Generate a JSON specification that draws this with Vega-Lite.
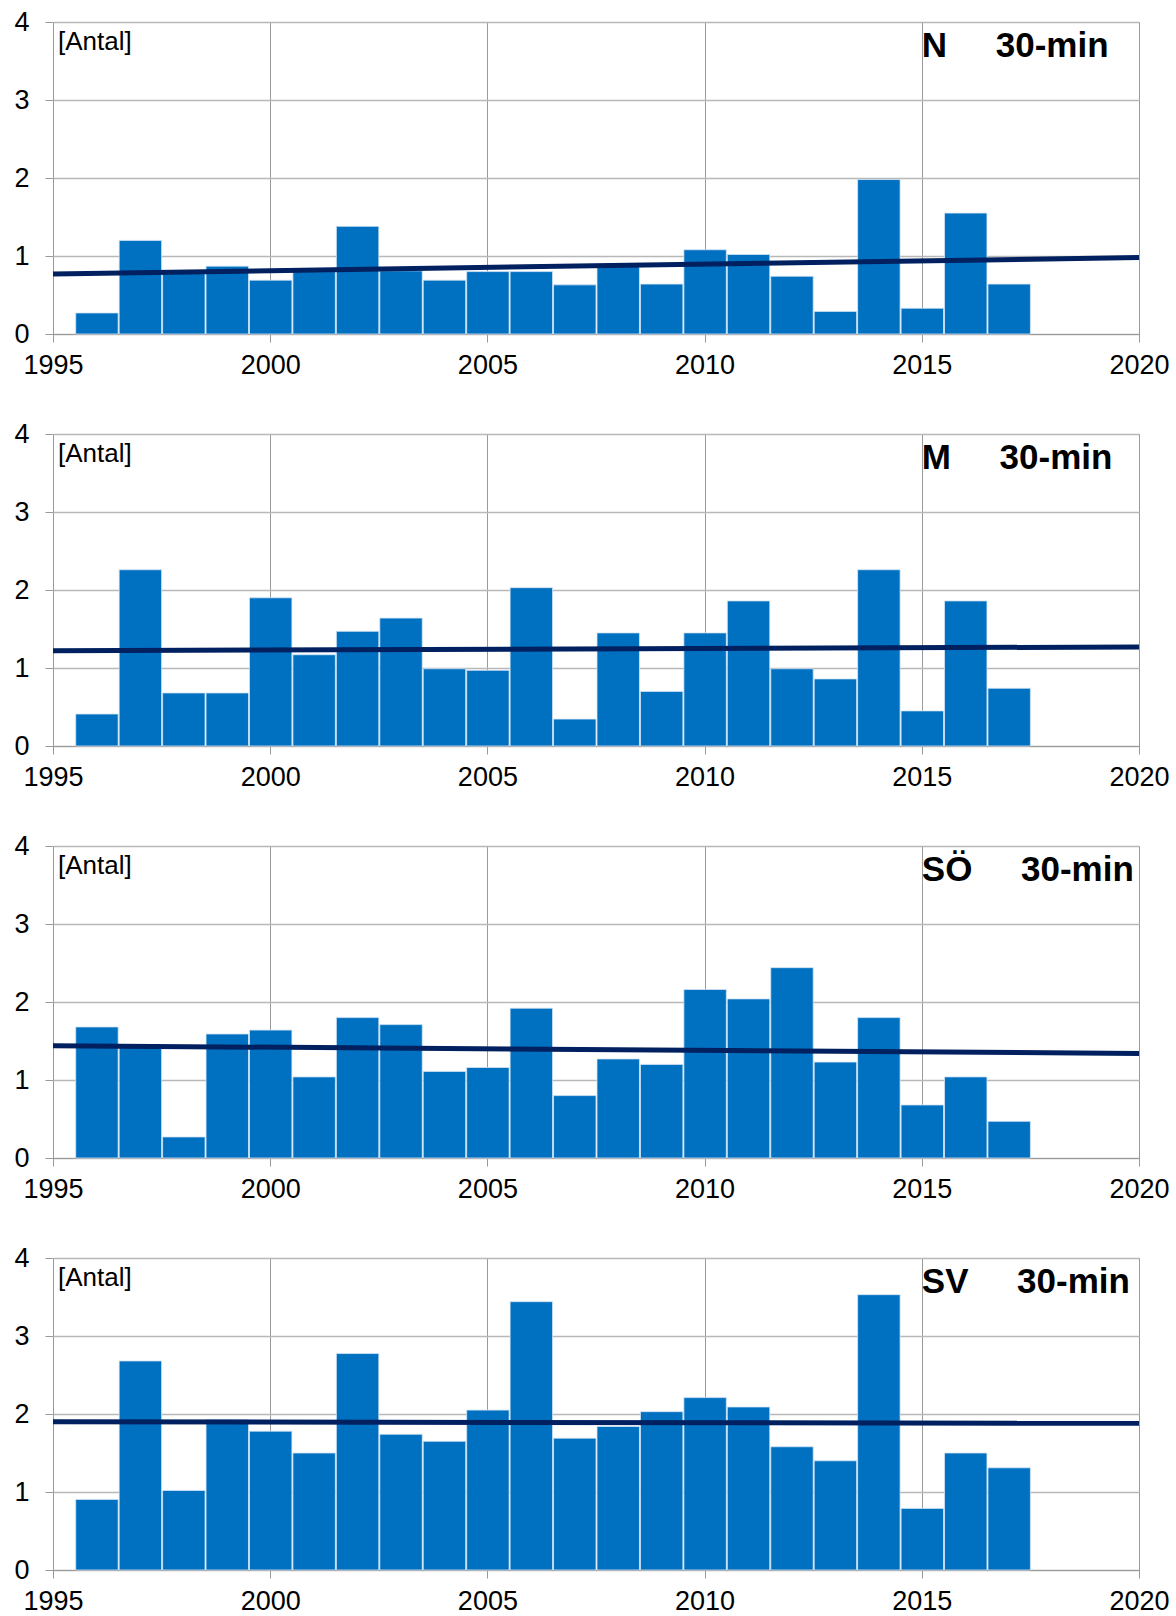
{
  "$schema": "https://vega.github.io/schema/vega-lite/v6.json",
  "background": "white",
  "padding": {"left": 13, "top": 8, "right": 10, "bottom": 0},
  "config": {
    "font": "Liberation Sans",
    "view": {"stroke": "#a0a0a0", "strokeWidth": 1},
    "axis": {"labelFont": "Liberation Sans", "labelColor": "#000000", "titleFont": "Liberation Sans"}
  },
  "data": {"values": [
    {"region": "N", "kind": "bar", "year": 1996, "value": 0.27},
    {"region": "N", "kind": "bar", "year": 1997, "value": 1.20},
    {"region": "N", "kind": "bar", "year": 1998, "value": 0.80},
    {"region": "N", "kind": "bar", "year": 1999, "value": 0.87},
    {"region": "N", "kind": "bar", "year": 2000, "value": 0.69},
    {"region": "N", "kind": "bar", "year": 2001, "value": 0.80},
    {"region": "N", "kind": "bar", "year": 2002, "value": 1.38},
    {"region": "N", "kind": "bar", "year": 2003, "value": 0.81},
    {"region": "N", "kind": "bar", "year": 2004, "value": 0.69},
    {"region": "N", "kind": "bar", "year": 2005, "value": 0.80},
    {"region": "N", "kind": "bar", "year": 2006, "value": 0.80},
    {"region": "N", "kind": "bar", "year": 2007, "value": 0.63},
    {"region": "N", "kind": "bar", "year": 2008, "value": 0.88},
    {"region": "N", "kind": "bar", "year": 2009, "value": 0.64},
    {"region": "N", "kind": "bar", "year": 2010, "value": 1.08},
    {"region": "N", "kind": "bar", "year": 2011, "value": 1.02},
    {"region": "N", "kind": "bar", "year": 2012, "value": 0.74},
    {"region": "N", "kind": "bar", "year": 2013, "value": 0.29},
    {"region": "N", "kind": "bar", "year": 2014, "value": 1.98},
    {"region": "N", "kind": "bar", "year": 2015, "value": 0.33},
    {"region": "N", "kind": "bar", "year": 2016, "value": 1.55},
    {"region": "N", "kind": "bar", "year": 2017, "value": 0.64},
    {"region": "N", "kind": "trend", "year": 1995, "value": 0.77},
    {"region": "N", "kind": "trend", "year": 2020, "value": 0.98},
    {"region": "N", "kind": "label", "text": "N\u00a0\u00a0\u00a0\u00a0\u00a030-min"},

    {"region": "M", "kind": "bar", "year": 1996, "value": 0.41},
    {"region": "M", "kind": "bar", "year": 1997, "value": 2.26},
    {"region": "M", "kind": "bar", "year": 1998, "value": 0.68},
    {"region": "M", "kind": "bar", "year": 1999, "value": 0.68},
    {"region": "M", "kind": "bar", "year": 2000, "value": 1.90},
    {"region": "M", "kind": "bar", "year": 2001, "value": 1.17},
    {"region": "M", "kind": "bar", "year": 2002, "value": 1.47},
    {"region": "M", "kind": "bar", "year": 2003, "value": 1.64},
    {"region": "M", "kind": "bar", "year": 2004, "value": 0.99},
    {"region": "M", "kind": "bar", "year": 2005, "value": 0.97},
    {"region": "M", "kind": "bar", "year": 2006, "value": 2.03},
    {"region": "M", "kind": "bar", "year": 2007, "value": 0.345},
    {"region": "M", "kind": "bar", "year": 2008, "value": 1.45},
    {"region": "M", "kind": "bar", "year": 2009, "value": 0.70},
    {"region": "M", "kind": "bar", "year": 2010, "value": 1.45},
    {"region": "M", "kind": "bar", "year": 2011, "value": 1.86},
    {"region": "M", "kind": "bar", "year": 2012, "value": 0.99},
    {"region": "M", "kind": "bar", "year": 2013, "value": 0.86},
    {"region": "M", "kind": "bar", "year": 2014, "value": 2.26},
    {"region": "M", "kind": "bar", "year": 2015, "value": 0.45},
    {"region": "M", "kind": "bar", "year": 2016, "value": 1.86},
    {"region": "M", "kind": "bar", "year": 2017, "value": 0.74},
    {"region": "M", "kind": "trend", "year": 1995, "value": 1.22},
    {"region": "M", "kind": "trend", "year": 2020, "value": 1.27},
    {"region": "M", "kind": "label", "text": "M\u00a0\u00a0\u00a0\u00a0\u00a030-min"},

    {"region": "SÖ", "kind": "bar", "year": 1996, "value": 1.68},
    {"region": "SÖ", "kind": "bar", "year": 1997, "value": 1.45},
    {"region": "SÖ", "kind": "bar", "year": 1998, "value": 0.27},
    {"region": "SÖ", "kind": "bar", "year": 1999, "value": 1.59},
    {"region": "SÖ", "kind": "bar", "year": 2000, "value": 1.64},
    {"region": "SÖ", "kind": "bar", "year": 2001, "value": 1.04},
    {"region": "SÖ", "kind": "bar", "year": 2002, "value": 1.80},
    {"region": "SÖ", "kind": "bar", "year": 2003, "value": 1.71},
    {"region": "SÖ", "kind": "bar", "year": 2004, "value": 1.11},
    {"region": "SÖ", "kind": "bar", "year": 2005, "value": 1.16},
    {"region": "SÖ", "kind": "bar", "year": 2006, "value": 1.92},
    {"region": "SÖ", "kind": "bar", "year": 2007, "value": 0.80},
    {"region": "SÖ", "kind": "bar", "year": 2008, "value": 1.27},
    {"region": "SÖ", "kind": "bar", "year": 2009, "value": 1.20},
    {"region": "SÖ", "kind": "bar", "year": 2010, "value": 2.16},
    {"region": "SÖ", "kind": "bar", "year": 2011, "value": 2.04},
    {"region": "SÖ", "kind": "bar", "year": 2012, "value": 2.44},
    {"region": "SÖ", "kind": "bar", "year": 2013, "value": 1.23},
    {"region": "SÖ", "kind": "bar", "year": 2014, "value": 1.80},
    {"region": "SÖ", "kind": "bar", "year": 2015, "value": 0.68},
    {"region": "SÖ", "kind": "bar", "year": 2016, "value": 1.04},
    {"region": "SÖ", "kind": "bar", "year": 2017, "value": 0.47},
    {"region": "SÖ", "kind": "trend", "year": 1995, "value": 1.44},
    {"region": "SÖ", "kind": "trend", "year": 2020, "value": 1.34},
    {"region": "SÖ", "kind": "label", "text": "SÖ\u00a0\u00a0\u00a0\u00a0\u00a030-min"},

    {"region": "SV", "kind": "bar", "year": 1996, "value": 0.905},
    {"region": "SV", "kind": "bar", "year": 1997, "value": 2.68},
    {"region": "SV", "kind": "bar", "year": 1998, "value": 1.02},
    {"region": "SV", "kind": "bar", "year": 1999, "value": 1.93},
    {"region": "SV", "kind": "bar", "year": 2000, "value": 1.78},
    {"region": "SV", "kind": "bar", "year": 2001, "value": 1.50},
    {"region": "SV", "kind": "bar", "year": 2002, "value": 2.775},
    {"region": "SV", "kind": "bar", "year": 2003, "value": 1.74},
    {"region": "SV", "kind": "bar", "year": 2004, "value": 1.65},
    {"region": "SV", "kind": "bar", "year": 2005, "value": 2.05},
    {"region": "SV", "kind": "bar", "year": 2006, "value": 3.44},
    {"region": "SV", "kind": "bar", "year": 2007, "value": 1.69},
    {"region": "SV", "kind": "bar", "year": 2008, "value": 1.84},
    {"region": "SV", "kind": "bar", "year": 2009, "value": 2.03},
    {"region": "SV", "kind": "bar", "year": 2010, "value": 2.21},
    {"region": "SV", "kind": "bar", "year": 2011, "value": 2.09},
    {"region": "SV", "kind": "bar", "year": 2012, "value": 1.58},
    {"region": "SV", "kind": "bar", "year": 2013, "value": 1.40},
    {"region": "SV", "kind": "bar", "year": 2014, "value": 3.53},
    {"region": "SV", "kind": "bar", "year": 2015, "value": 0.79},
    {"region": "SV", "kind": "bar", "year": 2016, "value": 1.50},
    {"region": "SV", "kind": "bar", "year": 2017, "value": 1.31},
    {"region": "SV", "kind": "trend", "year": 1995, "value": 1.90},
    {"region": "SV", "kind": "trend", "year": 2020, "value": 1.88},
    {"region": "SV", "kind": "label", "text": "SV\u00a0\u00a0\u00a0\u00a0\u00a030-min"}
  ]},
  "facet": {
    "row": {"field": "region", "type": "nominal", "sort": ["N", "M", "SÖ", "SV"], "header": {"labels": false, "title": null}}
  },
  "spacing": {"row": 100},
  "bounds": "flush",
  "resolve": {"axis": {"x": "independent"}},
  "spec": {
    "width": 1086,
    "height": 312,
    "layer": [
      {
        "transform": [{"filter": "datum.kind === 'bar'"}],
        "mark": {"type": "bar", "color": "#0070C0", "stroke": "#d4e5f5", "strokeWidth": 0.8, "binSpacing": 1},
        "encoding": {
          "x": {
            "field": "year", "type": "quantitative",
            "bin": {"step": 1, "anchor": 0.5},
            "scale": {"domain": [1995, 2020], "nice": false, "zero": false},
            "axis": {
              "values": [1995, 2000, 2005, 2010, 2015, 2020], "format": "d", "title": null,
              "grid": true, "gridColor": "#9a9a9a", "gridWidth": 1,
              "domainColor": "#999999", "tickColor": "#999999", "tickSize": 8,
              "labelFontSize": 27, "labelPadding": 10, "labelFlush": false, "labelOverlap": false
            }
          },
          "y": {
            "field": "value", "type": "quantitative",
            "scale": {"domain": [0, 4], "nice": false},
            "axis": {
              "values": [0, 1, 2, 3, 4], "format": "d", "title": null,
              "grid": true, "gridColor": "#b8b8b8", "gridWidth": 1.5,
              "domainColor": "#999999", "tickColor": "#999999", "tickSize": 8,
              "labelFontSize": 27, "labelPadding": 16
            }
          }
        }
      },
      {
        "transform": [{"filter": "datum.kind === 'trend'"}],
        "mark": {"type": "line", "color": "#002060", "strokeWidth": 5},
        "encoding": {
          "x": {"field": "year", "type": "quantitative"},
          "y": {"field": "value", "type": "quantitative"}
        }
      },
      {
        "transform": [{"filter": "datum.kind === 'label'"}],
        "mark": {"type": "text", "align": "left", "baseline": "alphabetic", "fontSize": 26, "color": "#000000", "dx": 5, "dy": 28},
        "encoding": {
          "x": {"datum": 1995, "type": "quantitative"},
          "y": {"datum": 4, "type": "quantitative"},
          "text": {"value": "[Antal]"}
        }
      },
      {
        "transform": [{"filter": "datum.kind === 'label'"}],
        "mark": {"type": "text", "align": "left", "baseline": "alphabetic", "fontSize": 35, "fontWeight": "bold", "color": "#000000", "dx": 0, "dy": 35},
        "encoding": {
          "x": {"datum": 2015, "type": "quantitative"},
          "y": {"datum": 4, "type": "quantitative"},
          "text": {"field": "text"}
        }
      }
    ]
  }
}
